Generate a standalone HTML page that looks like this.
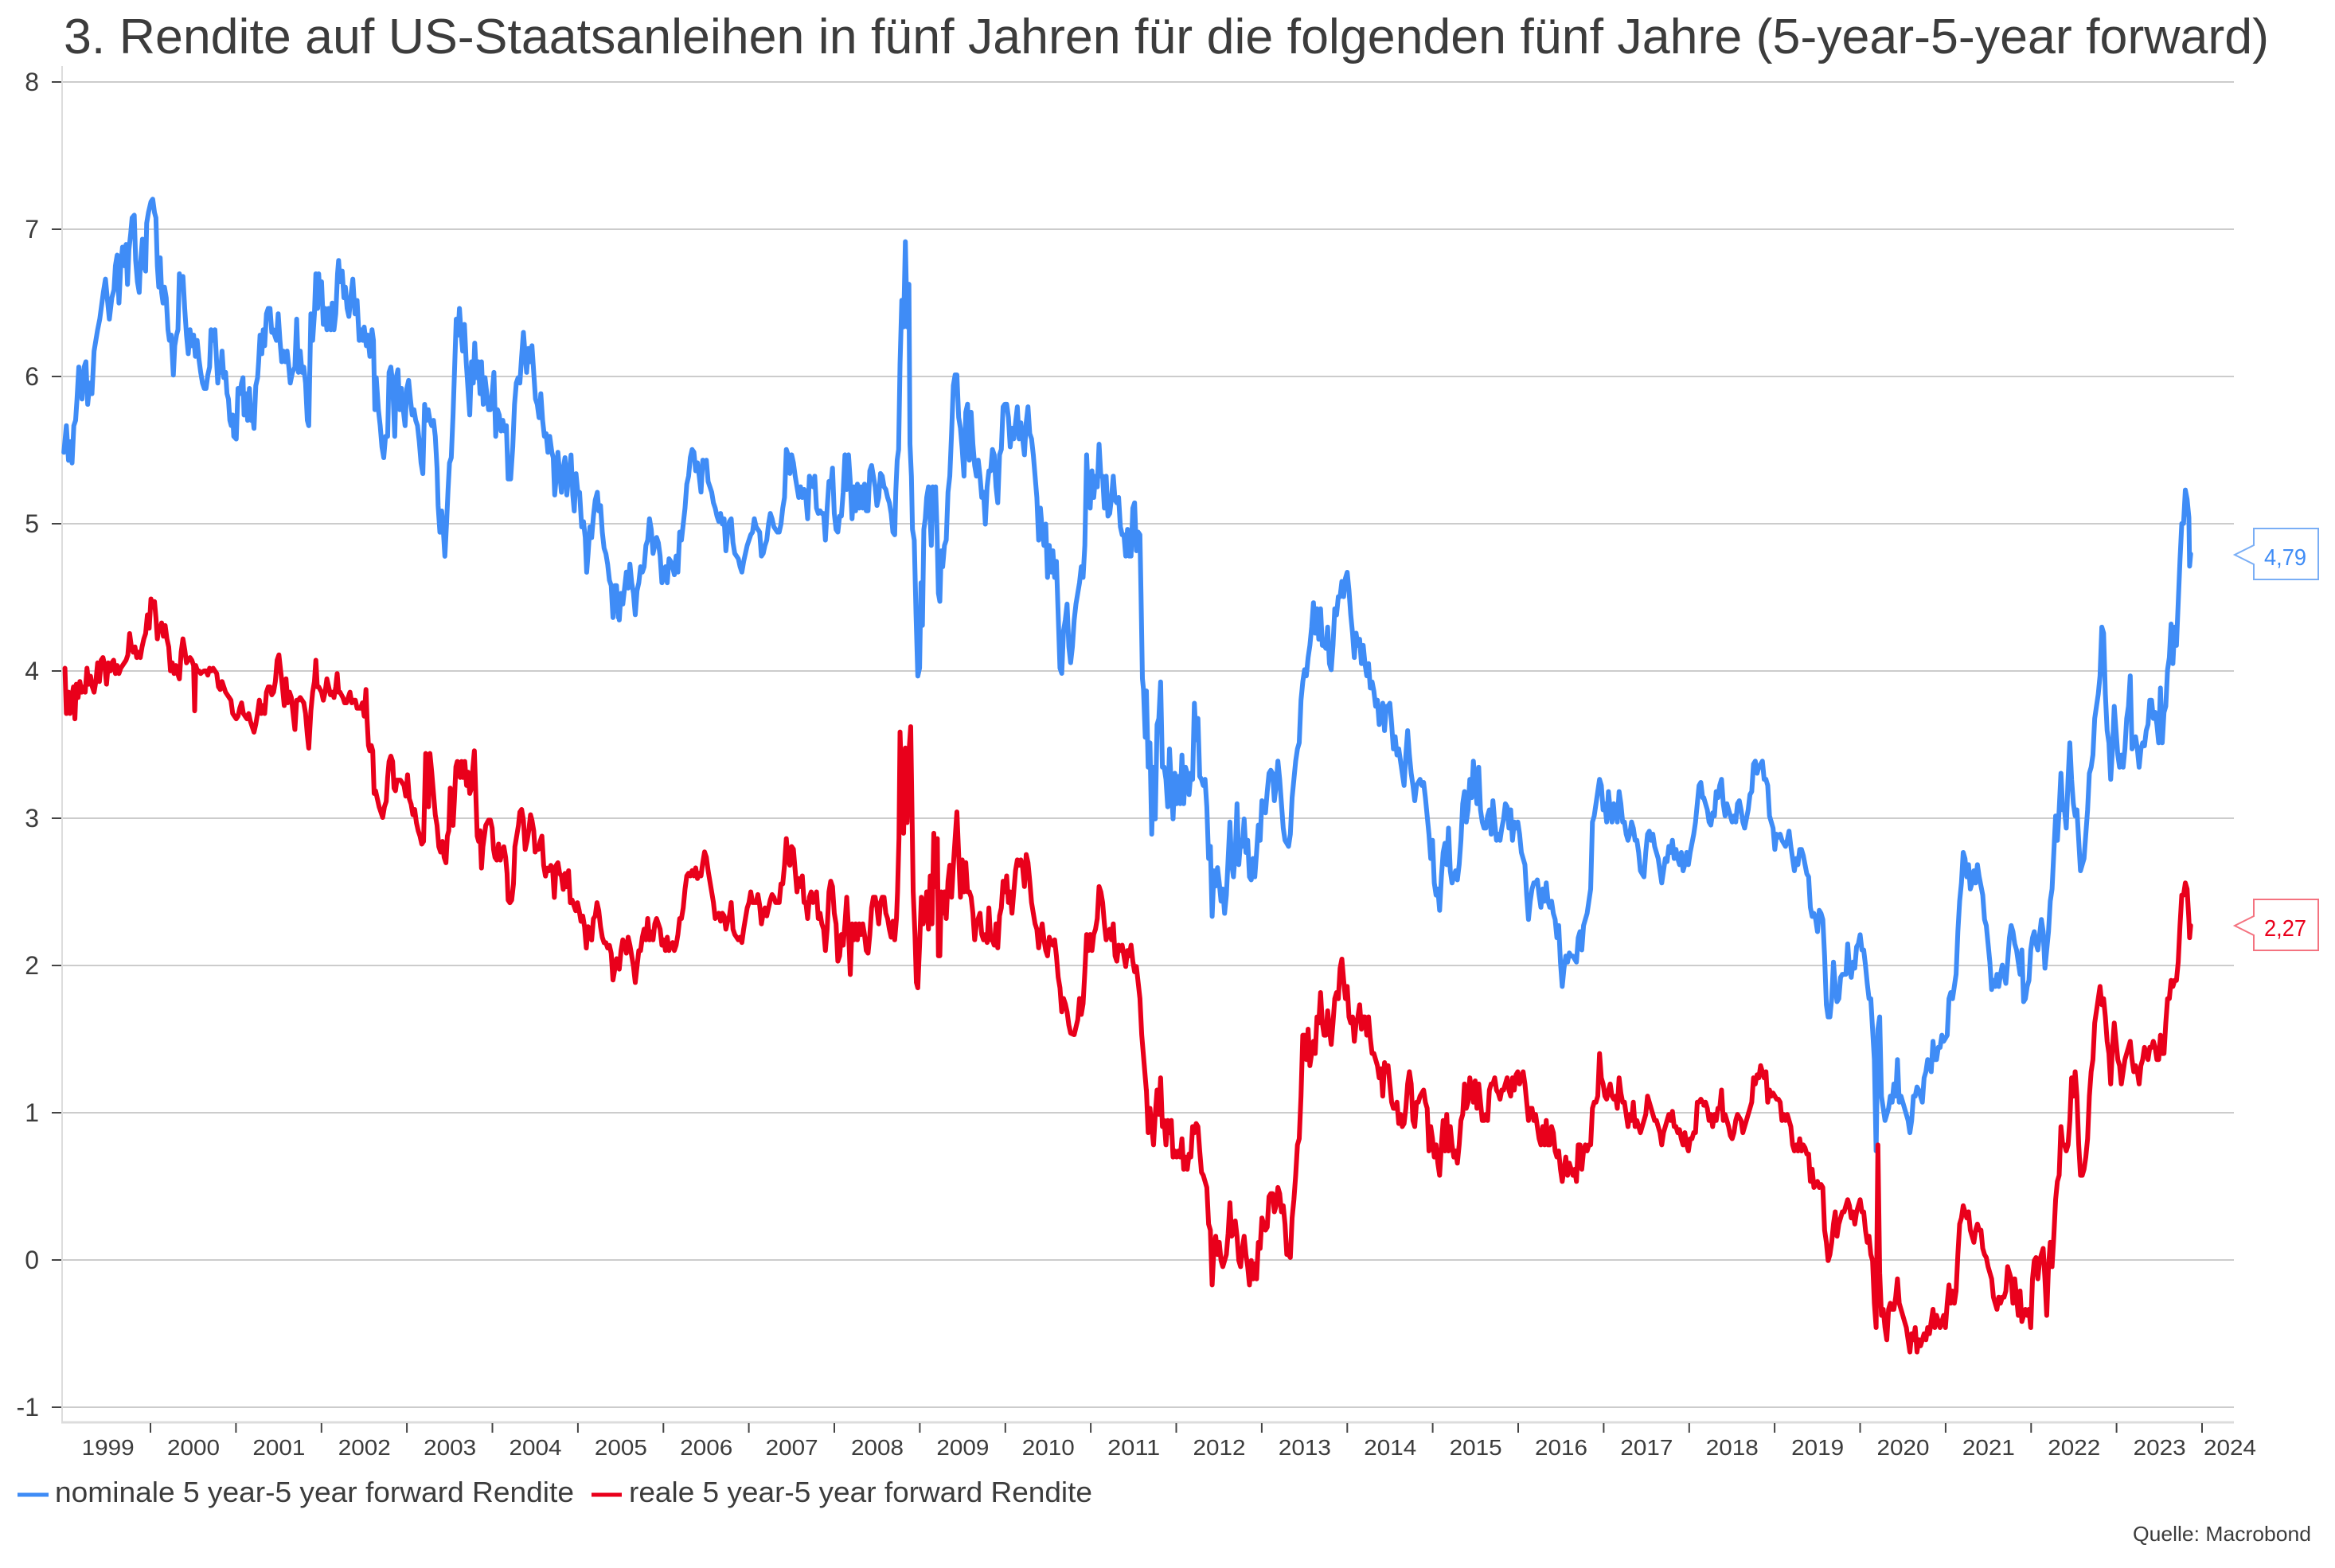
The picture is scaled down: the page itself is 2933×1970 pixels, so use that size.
<!DOCTYPE html>
<html>
<head>
<meta charset="utf-8">
<style>
html,body{margin:0;padding:0;background:#fff;}
svg{display:block;}
text{font-family:"Liberation Sans",sans-serif;fill:#3c3c3c;}
</style>
</head>
<body>
<svg width="2933" height="1970" viewBox="0 0 2933 1970" xmlns="http://www.w3.org/2000/svg">
<rect x="0" y="0" width="2933" height="1970" fill="#ffffff"/>

<!-- Title -->
<text x="80" y="67" font-size="62" textLength="2770" lengthAdjust="spacingAndGlyphs">3. Rendite auf US-Staatsanleihen in fünf Jahren für die folgenden fünf Jahre (5-year-5-year forward)</text>

<!-- Gridlines -->
<g stroke="#cccccc" stroke-width="2">
<line x1="78" y1="103" x2="2806" y2="103"/>
<line x1="78" y1="288" x2="2806" y2="288"/>
<line x1="78" y1="473" x2="2806" y2="473"/>
<line x1="78" y1="658" x2="2806" y2="658"/>
<line x1="78" y1="843" x2="2806" y2="843"/>
<line x1="78" y1="1028" x2="2806" y2="1028"/>
<line x1="78" y1="1213" x2="2806" y2="1213"/>
<line x1="78" y1="1398" x2="2806" y2="1398"/>
<line x1="78" y1="1583" x2="2806" y2="1583"/>
<line x1="78" y1="1768" x2="2806" y2="1768"/>
</g>
<!-- y tick marks -->
<g stroke="#444" stroke-width="2">
<line x1="65" y1="103" x2="78" y2="103"/>
<line x1="65" y1="288" x2="78" y2="288"/>
<line x1="65" y1="473" x2="78" y2="473"/>
<line x1="65" y1="658" x2="78" y2="658"/>
<line x1="65" y1="843" x2="78" y2="843"/>
<line x1="65" y1="1028" x2="78" y2="1028"/>
<line x1="65" y1="1213" x2="78" y2="1213"/>
<line x1="65" y1="1398" x2="78" y2="1398"/>
<line x1="65" y1="1583" x2="78" y2="1583"/>
<line x1="65" y1="1768" x2="78" y2="1768"/>
</g>
<!-- axes -->
<line x1="78" y1="83" x2="78" y2="1788" stroke="#dddddd" stroke-width="2"/>
<line x1="77" y1="1787" x2="2806" y2="1787" stroke="#dcdcdc" stroke-width="3"/>

<!-- y labels -->
<g font-size="32" text-anchor="end">
<text x="49" y="114">8</text>
<text x="49" y="299">7</text>
<text x="49" y="484">6</text>
<text x="49" y="669">5</text>
<text x="49" y="854">4</text>
<text x="49" y="1039">3</text>
<text x="49" y="1224">2</text>
<text x="49" y="1409">1</text>
<text x="49" y="1594">0</text>
<text x="49" y="1779">-1</text>
</g>

<!-- x ticks -->
<g stroke="#444" stroke-width="2">
<line x1="189" y1="1788" x2="189" y2="1800"/>
<line x1="296.4" y1="1788" x2="296.4" y2="1800"/>
<line x1="403.8" y1="1788" x2="403.8" y2="1800"/>
<line x1="511.1" y1="1788" x2="511.1" y2="1800"/>
<line x1="618.5" y1="1788" x2="618.5" y2="1800"/>
<line x1="725.9" y1="1788" x2="725.9" y2="1800"/>
<line x1="833.3" y1="1788" x2="833.3" y2="1800"/>
<line x1="940.6" y1="1788" x2="940.6" y2="1800"/>
<line x1="1048" y1="1788" x2="1048" y2="1800"/>
<line x1="1155.4" y1="1788" x2="1155.4" y2="1800"/>
<line x1="1262.8" y1="1788" x2="1262.8" y2="1800"/>
<line x1="1370.1" y1="1788" x2="1370.1" y2="1800"/>
<line x1="1477.5" y1="1788" x2="1477.5" y2="1800"/>
<line x1="1584.9" y1="1788" x2="1584.9" y2="1800"/>
<line x1="1692.3" y1="1788" x2="1692.3" y2="1800"/>
<line x1="1799.6" y1="1788" x2="1799.6" y2="1800"/>
<line x1="1907" y1="1788" x2="1907" y2="1800"/>
<line x1="2014.4" y1="1788" x2="2014.4" y2="1800"/>
<line x1="2121.8" y1="1788" x2="2121.8" y2="1800"/>
<line x1="2229.1" y1="1788" x2="2229.1" y2="1800"/>
<line x1="2336.5" y1="1788" x2="2336.5" y2="1800"/>
<line x1="2443.9" y1="1788" x2="2443.9" y2="1800"/>
<line x1="2551.3" y1="1788" x2="2551.3" y2="1800"/>
<line x1="2658.6" y1="1788" x2="2658.6" y2="1800"/>
<line x1="2766" y1="1788" x2="2766" y2="1800"/>
</g>
<!-- x labels -->
<g font-size="28" text-anchor="middle">
<text x="135.7" y="1828" textLength="66" lengthAdjust="spacingAndGlyphs">1999</text>
<text x="243" y="1828" textLength="66" lengthAdjust="spacingAndGlyphs">2000</text>
<text x="350.4" y="1828" textLength="66" lengthAdjust="spacingAndGlyphs">2001</text>
<text x="457.8" y="1828" textLength="66" lengthAdjust="spacingAndGlyphs">2002</text>
<text x="565.2" y="1828" textLength="66" lengthAdjust="spacingAndGlyphs">2003</text>
<text x="672.5" y="1828" textLength="66" lengthAdjust="spacingAndGlyphs">2004</text>
<text x="779.9" y="1828" textLength="66" lengthAdjust="spacingAndGlyphs">2005</text>
<text x="887.3" y="1828" textLength="66" lengthAdjust="spacingAndGlyphs">2006</text>
<text x="994.7" y="1828" textLength="66" lengthAdjust="spacingAndGlyphs">2007</text>
<text x="1102" y="1828" textLength="66" lengthAdjust="spacingAndGlyphs">2008</text>
<text x="1209.4" y="1828" textLength="66" lengthAdjust="spacingAndGlyphs">2009</text>
<text x="1316.8" y="1828" textLength="66" lengthAdjust="spacingAndGlyphs">2010</text>
<text x="1424.2" y="1828" textLength="66" lengthAdjust="spacingAndGlyphs">2011</text>
<text x="1531.5" y="1828" textLength="66" lengthAdjust="spacingAndGlyphs">2012</text>
<text x="1638.9" y="1828" textLength="66" lengthAdjust="spacingAndGlyphs">2013</text>
<text x="1746.3" y="1828" textLength="66" lengthAdjust="spacingAndGlyphs">2014</text>
<text x="1853.7" y="1828" textLength="66" lengthAdjust="spacingAndGlyphs">2015</text>
<text x="1961" y="1828" textLength="66" lengthAdjust="spacingAndGlyphs">2016</text>
<text x="2068.4" y="1828" textLength="66" lengthAdjust="spacingAndGlyphs">2017</text>
<text x="2175.8" y="1828" textLength="66" lengthAdjust="spacingAndGlyphs">2018</text>
<text x="2283.2" y="1828" textLength="66" lengthAdjust="spacingAndGlyphs">2019</text>
<text x="2390.5" y="1828" textLength="66" lengthAdjust="spacingAndGlyphs">2020</text>
<text x="2497.9" y="1828" textLength="66" lengthAdjust="spacingAndGlyphs">2021</text>
<text x="2605.3" y="1828" textLength="66" lengthAdjust="spacingAndGlyphs">2022</text>
<text x="2712.7" y="1828" textLength="66" lengthAdjust="spacingAndGlyphs">2023</text>
<text x="2801" y="1828" textLength="66" lengthAdjust="spacingAndGlyphs">2024</text>
</g>

<!-- Series -->
<g fill="none" stroke-width="6" stroke-linejoin="round" stroke-linecap="round">
<!-- segment 1 -->
<g transform="translate(78,200) scale(0.446429,0.669643)">
<polyline vector-effect="non-scaling-stroke" stroke="#3f8cf6" points="5,550 12,500 18,565 24,530 28,570 33,500 38,490 42,450 47,390 52,420 56,450 62,390 67,380 72,460 78,420 84,440 90,360 95,340 100,320 106,300 110,280 116,250 122,225 127,260 133,300 140,260 146,245 150,200 155,180 160,270 165,200 170,165 175,200 180,160 184,235 188,170 193,140 197,110 203,105 207,190 212,230 217,250 220,200 226,150 230,200 235,210 238,120 243,100 250,80 255,75 260,100 264,110 268,200 272,240 276,185 280,250 284,270 288,240 293,260 298,320 302,340 307,330 313,405 317,350 322,330 326,320 330,215 336,240 340,220 345,280 350,330 355,365 360,320 365,350 370,330 375,370 380,340 385,375 390,400 395,420 400,430 405,430 410,405 415,390 419,320 424,340 430,320 434,370 438,420 442,390 446,400 450,360 455,410 460,400 464,440 468,450 472,490 476,500 480,480 483,520 490,525 495,430 500,440 505,420 509,410 512,480 518,440 522,490 527,430 532,490 536,480 540,505 545,425 550,410 553,380 557,330 562,365 566,320 570,350 575,290 580,280 585,280 590,325 594,320 598,330 603,340 608,290 613,340 618,380 622,360 628,380 633,360 638,390 642,420 648,400 655,390 660,300 665,400 670,360 675,400 680,390 685,420 690,490 694,500 700,290 705,340 710,290 714,215 719,280 722,215 726,270 730,230 735,310 740,280 745,320 750,280 756,320 760,270 765,320 770,290 775,215 778,190 782,230 788,210 793,260 797,240 802,280 807,295 812,260 818,225 824,290 830,265 836,340 840,320 846,340 850,315 856,350 860,330 866,370 872,320 876,340 880,470 884,410 890,470 895,500 900,540 905,560 910,520 916,520 920,400 925,390 930,420 936,520 940,410 945,395 950,470 955,430 960,470 965,500 970,430 975,415 980,450 985,480 990,470 995,490 1000,500 1005,530 1010,570 1015,590 1020,460 1025,490 1030,470 1035,490 1040,500 1045,490 1050,520 1055,580 1058,650 1063,700 1068,660 1073,700 1077,745 1082,680 1086,620 1090,570 1095,560 1100,480 1104,400 1109,300 1114,330 1118,280 1122,320 1127,360 1132,310 1137,380 1142,430 1147,480 1152,380 1157,420 1161,345 1166,410 1171,380 1176,440 1180,380 1185,460 1190,410 1195,440 1200,470 1205,470 1210,440 1215,400 1220,520 1225,470 1230,480 1235,510 1240,490 1245,510 1250,500 1255,600 1262,600 1268,540 1273,460 1278,420 1283,410 1288,420 1293,370 1298,325 1302,360 1307,400 1312,355 1317,380 1322,350 1327,400 1332,450 1337,460 1342,485 1347,440 1352,490 1357,520 1362,515 1367,550 1372,520 1378,550 1382,560 1386,630 1390,600 1395,550 1400,590 1405,625 1410,580 1415,560 1420,630 1426,590 1432,555 1437,630 1441,660 1446,590 1451,625 1456,625 1462,690 1467,680 1472,710 1476,775 1480,740 1485,690 1490,710 1495,670 1500,640 1506,625 1510,660 1515,650 1520,700 1525,730 1530,740 1535,760 1540,790 1545,800 1550,860 1555,800 1560,800 1565,860"/>
<polyline vector-effect="non-scaling-stroke" stroke="#e9001b" points="8,955 12,1040 18,1000 22,1040 27,1010 32,990 36,1050 40,985 45,1010 50,980 55,1000 60,990 65,1000 70,955 75,985 80,970 85,990 90,1000 95,980 100,945 105,980 110,940 115,935 120,950 125,985 130,945 136,960 140,945 145,940 150,965 155,950 160,965 165,955 170,950 175,945 180,940 185,930 190,890 195,915 200,925 205,915 210,935 215,925 220,935 225,915 230,900 235,890 240,855 245,880 250,825 255,840 260,830 264,860 268,900 272,880 276,880 280,870 285,895 290,875 295,900 300,915 305,960 310,945 315,965 320,950 325,965 330,975 335,925 340,900 345,920 350,945 355,940 360,935 365,940 370,950 373,1035 376,950 380,958 385,960 390,965 395,962 400,960 405,960 410,968 415,955 420,960 425,955 430,960 435,965 440,990 445,995 450,980 455,990 460,1000 465,1005 470,1010 475,1015 480,1040 485,1045 490,1050 495,1045 500,1030 505,1020 510,1040 515,1045 520,1050 525,1040 530,1055 535,1065 540,1075 545,1060 550,1040 555,1015 560,1040 565,1025 570,1040 575,1000 580,990 585,990 590,1005 595,1000 600,980 605,940 610,930 615,960 620,990 625,1025 630,975 635,1020 640,1000 645,1010 650,1040 655,1070 660,1015 665,1015 670,1010 675,1015 680,1020 685,1040 690,1080 694,1105 700,1035 705,1000 710,980 714,940 718,990 722,990 726,995 730,1000 735,1015 740,1000 745,975 750,990 755,1005 760,1000 765,1010 770,990 774,965 778,1000 782,1000 786,1005 790,1010 795,1020 800,1020 805,1010 810,1000 815,1020 820,1015 825,1015 830,1030 835,1030 840,1030 845,1020 850,1045 855,995 858,1050 862,1100 866,1110 870,1100 874,1110 878,1190 882,1185 887,1200 892,1215 897,1225 902,1235 907,1215 912,1205 916,1160 920,1130 925,1120 930,1130 934,1180 938,1185 942,1165 947,1165 952,1165 957,1170 962,1175 967,1195 972,1155 977,1200 982,1210 987,1230 992,1220 997,1245 1002,1260 1007,1270 1012,1285 1017,1280 1020,1200 1023,1115 1027,1180 1031,1215 1035,1115 1040,1150 1045,1190 1050,1230 1055,1250 1060,1290 1065,1300 1070,1280 1075,1310 1080,1320 1084,1270 1088,1260 1092,1180 1096,1200 1100,1250 1104,1200 1108,1140 1112,1130 1116,1150 1120,1160 1124,1130 1128,1160 1133,1130 1138,1175 1142,1150 1147,1190 1152,1180 1156,1140 1160,1110 1164,1190 1168,1270 1172,1280 1176,1260 1180,1330 1184,1290 1188,1270 1192,1250 1196,1245 1200,1240 1205,1240 1210,1255 1214,1295 1218,1310 1223,1315 1228,1285 1233,1315 1238,1300 1243,1290 1248,1310 1252,1340 1255,1390 1260,1395 1265,1390 1270,1360 1274,1290 1279,1270 1284,1250 1288,1225 1293,1220 1298,1240 1303,1295 1308,1280 1313,1260 1318,1230 1322,1240 1327,1260 1331,1300 1335,1290 1340,1295 1345,1280 1350,1270 1355,1325 1360,1345 1365,1330 1370,1335 1375,1325 1380,1330 1385,1385 1390,1325 1395,1320 1400,1340 1405,1345 1410,1370 1415,1340 1420,1365 1425,1335 1430,1395 1435,1390 1440,1400 1445,1410 1450,1395 1455,1410 1460,1430 1465,1420 1470,1440 1475,1480 1480,1440 1485,1445 1490,1465 1495,1425 1500,1420 1505,1395 1510,1410 1515,1440 1520,1460 1525,1470 1530,1470 1535,1480 1540,1475 1545,1490 1550,1540 1555,1520 1560,1500 1565,1510"/>
</g>
<!-- segment 2 -->
<g transform="translate(760,250) scale(0.446429,0.669643)">
<polyline vector-effect="non-scaling-stroke" stroke="#3f8cf6" points="40,790 45,740 50,760 55,730 60,700 65,730 70,685 75,720 80,740 85,780 90,735 95,720 100,690 105,700 110,690 115,650 120,640 125,600 130,620 135,665 140,650 145,635 150,645 155,670 160,720 165,710 170,690 175,720 180,675 185,680 190,690 195,705 200,670 205,700 210,625 215,640 220,610 225,580 230,535 235,520 240,485 245,470 250,475 255,510 260,495 265,520 270,550 275,490 280,500 285,490 290,530 295,540 300,550 305,570 310,580 315,595 320,605 325,590 330,610 335,600 340,660 345,625 350,605 355,600 360,645 365,665 370,670 375,675 380,690 385,700 390,680 395,665 400,650 405,640 410,630 415,625 420,600 425,615 430,620 435,625 440,670 445,665 450,650 455,640 460,610 465,590 470,600 475,615 480,620 485,625 490,625 495,610 500,580 505,560 510,470 515,480 520,515 525,480 530,495 535,520 540,540 545,560 550,540 555,560 560,545 565,560 570,600 575,520 580,530 585,540 590,520 595,580 600,590 605,585 610,590 615,590 620,640 625,580 630,530 635,540 640,505 645,590 650,620 655,625 660,595 665,595 670,550 675,480 680,545 685,480 690,530 695,600 700,540 705,585 710,535 715,580 720,540 725,580 730,535 735,585 740,585 745,510 750,500 755,520 760,540 765,575 770,560 775,515 780,520 785,540 790,545 795,560 800,570 805,590 810,625 815,630 818,550 822,490 826,470 830,310 835,190 840,240 845,80 850,240 855,160 858,460 862,520 865,620 870,640 875,780 880,895 885,880 889,720 893,800 897,620 901,600 905,560 910,540 914,590 918,650 922,540 926,600 930,540 934,620 938,740 942,755 946,660 950,690 955,650 960,640 965,550 970,520 975,440 980,350 985,330 990,330 995,410 1000,430 1005,470 1010,520 1015,400 1020,385 1025,490 1030,400 1035,460 1040,500 1045,520 1050,490 1055,520 1060,560 1065,550 1070,610 1075,540 1080,510 1085,510 1090,470 1095,480 1100,540 1105,570 1110,480 1115,470 1120,390 1125,385 1130,385 1135,410 1140,465 1145,430 1150,450 1155,420 1160,390 1165,450 1170,420 1175,450 1180,480 1185,420 1190,390 1195,440 1200,450 1205,480 1210,520 1215,560 1220,640 1225,580 1230,620 1235,650 1240,610 1245,710 1250,650 1255,700 1260,660 1265,710 1270,680 1275,780 1280,880 1285,890 1290,810 1295,790 1300,760 1305,840 1310,870 1315,840 1320,790 1325,760 1330,740 1335,720 1340,690 1345,710 1350,650 1355,480 1360,560 1365,580 1370,510 1375,560 1380,520 1385,540 1390,460 1395,520 1400,520 1405,580 1410,520 1415,595 1420,590 1425,560 1430,520 1435,565 1440,570 1445,560 1450,615 1455,630 1460,630 1465,670 1470,620 1475,670 1480,670 1485,580 1490,570 1495,660 1500,625 1505,630 1508,740 1512,900 1515,920 1520,1010 1523,923"/>
<polyline vector-effect="non-scaling-stroke" stroke="#e9001b" points="40,1445 45,1410 50,1390 55,1400 60,1415 65,1385 70,1400 75,1420 80,1440 85,1470 90,1440 95,1410 100,1410 105,1385 110,1370 115,1390 120,1350 125,1390 130,1375 135,1390 140,1360 145,1350 150,1360 155,1370 160,1400 165,1390 170,1410 175,1385 180,1410 185,1400 190,1395 195,1410 200,1400 205,1380 210,1350 215,1350 220,1330 225,1295 230,1270 235,1265 240,1270 245,1260 250,1270 255,1255 260,1275 265,1265 270,1270 275,1245 280,1225 285,1235 290,1260 295,1280 300,1300 305,1320 310,1350 315,1345 320,1340 325,1355 330,1340 335,1345 340,1370 345,1355 350,1345 355,1320 360,1370 365,1380 370,1385 375,1390 380,1385 385,1395 390,1370 395,1350 400,1330 405,1320 410,1300 415,1320 420,1320 425,1320 430,1305 435,1325 440,1360 445,1340 450,1330 455,1345 460,1330 465,1315 470,1305 475,1310 480,1320 485,1320 490,1320 495,1285 500,1285 505,1250 510,1200 515,1240 520,1250 525,1215 530,1220 535,1260 540,1300 545,1275 550,1290 555,1270 560,1320 565,1320 570,1350 575,1310 580,1300 585,1320 590,1310 595,1300 600,1350 605,1340 610,1360 615,1370 620,1410 625,1370 630,1300 635,1280 640,1290 645,1340 650,1360 655,1430 660,1420 665,1380 670,1400 675,1360 680,1310 685,1370 690,1455 695,1360 700,1390 705,1360 710,1390 715,1360 720,1380 725,1360 730,1380 735,1410 740,1415 745,1380 750,1330 755,1310 760,1310 765,1330 770,1360 775,1320 780,1310 785,1310 790,1340 795,1350 800,1370 805,1385 810,1355 815,1390 820,1350 823,1300 827,1200 830,1000 835,1100 840,1190 845,1030 850,1170 855,1040 860,990 863,1120 867,1300 872,1380 876,1470 880,1480 885,1400 890,1310 895,1360 900,1340 905,1300 910,1370 915,1270 920,1360 925,1190 930,1290 935,1200 938,1420 942,1420 946,1300 950,1340 955,1300 960,1350 965,1280 970,1250 975,1310 980,1250 985,1200 990,1150 995,1230 1000,1310 1005,1240 1010,1300 1015,1245 1020,1300 1025,1300 1030,1310 1035,1340 1040,1390 1045,1360 1050,1350 1055,1340 1060,1380 1065,1390 1070,1380 1075,1395 1080,1330 1085,1390 1090,1390 1095,1400 1100,1360 1105,1405 1110,1345 1115,1330 1120,1280 1125,1300 1130,1270 1135,1320 1140,1300 1145,1340 1150,1300 1155,1260 1160,1240 1165,1250 1170,1240 1175,1255 1180,1290 1185,1230 1190,1245 1195,1280 1200,1320 1205,1340 1210,1360 1215,1370 1220,1405 1225,1380 1230,1360 1235,1390 1240,1410 1245,1420 1250,1385 1255,1395 1260,1400 1265,1390 1270,1420 1275,1460 1280,1480 1285,1525 1290,1500 1295,1510 1300,1525 1305,1550 1310,1565 1320,1568 1330,1540 1335,1500 1340,1530 1345,1510 1350,1450 1355,1380 1360,1410 1365,1380 1370,1410 1375,1380 1380,1370 1385,1350 1390,1290 1395,1300 1400,1320 1405,1360 1410,1390 1415,1380 1420,1370 1425,1390 1430,1360 1435,1420 1440,1430 1445,1400 1450,1410 1455,1400 1460,1420 1465,1440 1470,1410 1475,1420 1480,1400 1485,1430 1490,1450 1495,1440 1500,1470 1505,1500 1510,1568 1523,1672"/>
</g>
<!-- segment 3 -->
<g transform="translate(1440,520) scale(0.446429,0.765306)">
<polyline vector-effect="non-scaling-stroke" stroke="#3f8cf6" points="0,455 5,580 10,540 15,690 20,580 25,665 30,510 35,500 40,440 45,580 50,580 55,600 60,645 65,550 70,610 75,665 80,590 85,640 90,595 95,640 100,560 105,640 110,580 115,590 120,625 125,590 130,600 135,475 140,535 145,500 150,595 155,600 160,610 165,600 170,645 175,730 180,710 185,825 190,750 195,775 200,745 205,770 210,800 215,780 220,820 225,790 230,730 235,670 240,740 245,760 250,720 255,640 260,740 265,700 270,710 275,665 280,720 285,700 290,760 295,765 300,730 305,760 310,720 315,675 320,700 325,635 330,650 335,655 340,620 345,590 350,585 355,590 360,635 365,610 370,570 375,600 380,640 385,680 390,700 395,705 400,710 405,690 410,630 415,600 420,570 425,550 430,540 435,470 440,440 445,420 450,430 455,400 460,380 465,350 470,310 475,360 480,320 485,370 490,320 495,380 500,380 505,385 510,350 515,410 520,420 525,380 530,320 535,330 540,300 545,300 550,275 555,300 560,270 565,260 570,290 575,330 580,360 585,400 590,360 595,380 600,370 605,410 610,380 615,410 620,430 625,410 630,450 635,440 640,455 645,480 650,470 655,510 660,500 665,475 670,520 675,480 680,480 685,475 690,510 695,550 700,530 705,560 710,550 715,570 720,590 725,610 730,560 735,520 740,560 745,590 750,610 755,635 760,610 765,605 770,600 775,610 780,605 785,630 790,660 795,690 800,730 805,700 810,770 815,790 820,780 825,815 830,760 835,720 840,705 845,740 850,680 855,750 860,770 865,760 870,750 875,765 880,740 885,700 890,640 895,620 900,670 905,650 910,600 915,630 920,570 925,610 930,640 935,580 940,650 945,670 950,680 955,680 960,660 965,650 970,690 975,635 980,670 985,700 990,690 995,700 1000,680 1005,665 1010,640 1015,645 1020,680 1025,650 1030,700 1035,670 1040,680 1045,670 1050,690 1055,720 1060,730 1065,740 1070,790 1075,830 1080,800 1085,780 1090,770 1095,770 1100,765 1105,790 1110,810 1115,780 1120,800 1125,770 1130,800 1135,810 1140,800 1145,820 1150,830 1155,860 1160,840 1165,900 1170,940 1175,910 1180,890 1185,900 1190,885 1195,890 1200,890 1205,895 1210,900 1215,860 1220,850 1225,880 1230,840 1235,830 1240,820 1245,800 1250,780 1255,670 1260,660 1265,640 1270,620 1275,600 1280,610 1285,650 1290,640 1295,670 1300,620 1305,650 1310,670 1315,640 1320,650 1325,670 1330,620 1335,640 1340,670 1345,670 1350,690 1355,700 1360,690 1365,670 1370,680 1375,700 1380,700 1385,720 1390,750 1395,755 1400,760 1405,720 1410,690 1415,685 1420,700 1425,690 1430,710 1435,720 1440,730 1445,750 1450,770 1455,750 1460,730 1465,735 1470,710 1475,720 1480,700 1485,730 1490,715 1495,730 1500,740 1505,720 1510,750 1515,740 1520,720 1525,740 1530,720 1535,705 1540,690 1545,670 1550,640 1555,610 1560,605 1565,630"/>
<polyline vector-effect="non-scaling-stroke" stroke="#e9001b" points="0,1110 5,1180 10,1140 15,1170 20,1200 25,1150 30,1110 35,1150 40,1090 45,1170 50,1160 55,1200 60,1160 65,1180 70,1160 75,1220 80,1210 85,1220 90,1210 95,1220 100,1190 105,1240 110,1220 115,1240 120,1215 125,1220 130,1170 135,1180 140,1165 145,1170 150,1210 155,1245 160,1250 165,1260 170,1270 175,1330 180,1340 185,1430 190,1370 195,1350 200,1380 205,1360 210,1390 215,1400 220,1390 225,1380 230,1345 235,1295 240,1350 245,1345 250,1325 255,1350 260,1390 265,1400 270,1370 275,1350 280,1380 285,1400 290,1430 295,1390 300,1420 305,1395 310,1420 315,1360 320,1370 325,1320 330,1330 335,1340 340,1335 345,1285 350,1280 355,1280 360,1310 365,1300 370,1270 375,1280 380,1310 385,1300 390,1330 395,1380 400,1380 405,1385 410,1320 415,1290 420,1250 425,1200 430,1190 435,1120 440,1020 445,1020 450,1060 455,1010 460,1070 465,1050 470,1030 475,1050 480,990 485,1000 490,950 495,1000 500,1020 505,1020 510,980 515,1010 520,1035 525,1000 530,960 535,950 540,960 545,910 550,895 555,930 560,960 565,940 570,990 575,1000 580,990 585,1030 590,1000 595,990 600,970 605,1010 610,990 615,990 620,1020 625,990 630,1025 635,1050 640,1050 645,1060 650,1070 655,1090 660,1075 665,1120 670,1065 675,1080 680,1070 685,1100 690,1130 695,1140 700,1140 705,1130 710,1165 715,1150 720,1170 725,1165 730,1140 735,1100 740,1080 745,1100 750,1160 755,1170 760,1130 765,1130 770,1120 775,1115 780,1110 785,1130 790,1140 795,1210 800,1170 805,1190 810,1220 815,1200 820,1230 825,1250 830,1200 835,1160 840,1210 845,1150 850,1210 855,1170 860,1200 865,1220 870,1210 875,1230 880,1200 885,1160 890,1150 895,1100 900,1140 905,1130 910,1090 915,1110 920,1130 925,1095 930,1140 935,1100 940,1130 945,1160 950,1160 955,1150 960,1160 965,1110 970,1100 975,1100 980,1090 985,1110 990,1115 995,1125 1000,1110 1005,1110 1010,1100 1015,1090 1020,1110 1025,1120 1030,1090 1035,1110 1040,1085 1045,1080 1050,1100 1055,1090 1060,1080 1065,1100 1070,1130 1075,1160 1080,1140 1085,1140 1090,1160 1095,1150 1100,1170 1105,1190 1110,1200 1115,1170 1120,1200 1125,1160 1130,1200 1135,1200 1140,1170 1145,1180 1150,1210 1155,1220 1160,1210 1165,1240 1170,1260 1175,1240 1180,1220 1185,1250 1190,1230 1195,1240 1200,1250 1205,1240 1210,1260 1215,1200 1220,1200 1225,1240 1230,1210 1235,1200 1240,1210 1245,1200 1250,1200 1255,1140 1260,1130 1265,1130 1270,1120 1275,1050 1280,1090 1285,1100 1290,1120 1295,1125 1300,1110 1305,1100 1310,1120 1315,1125 1320,1120 1325,1140 1330,1090 1335,1115 1340,1130 1345,1130 1350,1150 1355,1170 1360,1150 1365,1160 1370,1130 1375,1170 1380,1160 1385,1170 1390,1180 1395,1170 1400,1160 1405,1150 1410,1120 1415,1130 1420,1140 1425,1150 1430,1160 1435,1160 1440,1170 1445,1180 1450,1200 1455,1180 1460,1170 1465,1160 1470,1150 1475,1160 1480,1145 1485,1170 1490,1170 1495,1180 1500,1175 1505,1190 1510,1200 1515,1180 1520,1200 1525,1210 1530,1190 1535,1190 1540,1180 1545,1180 1550,1130 1555,1130 1560,1125 1565,1130"/>
</g>
<!-- segment 4 -->
<g transform="translate(2120,520) scale(0.446429,0.765306)">
<polyline vector-effect="non-scaling-stroke" stroke="#3f8cf6" points="45,630 50,640 55,650 60,670 65,675 70,655 75,660 80,620 85,630 90,610 95,600 100,640 105,660 110,640 115,650 120,660 125,670 130,660 135,670 140,640 145,635 150,650 155,670 160,680 165,665 170,650 175,625 180,620 185,575 190,570 195,590 200,580 205,575 210,570 215,600 220,600 225,610 230,660 235,670 240,680 245,715 250,690 255,695 260,690 265,700 270,705 275,710 280,700 285,685 290,710 295,730 300,750 305,730 310,740 315,715 320,715 325,725 330,740 335,755 340,760 345,810 350,825 355,820 360,830 365,850 370,815 375,820 380,830 385,890 390,970 395,990 400,990 405,960 410,900 415,940 420,965 425,960 430,925 435,920 440,920 445,920 450,870 455,910 460,925 465,900 470,910 475,875 480,870 485,855 490,880 495,880 500,905 505,935 510,960 515,960 520,1010 525,1060 530,1210 535,1010 540,990 545,1120 550,1140 555,1160 560,1150 565,1140 570,1120 575,1130 580,1100 585,1120 590,1060 595,1130 600,1120 605,1130 610,1140 615,1150 620,1160 625,1180 630,1160 635,1120 640,1120 645,1105 650,1110 655,1120 660,1130 665,1090 670,1080 675,1060 680,1070 685,1080 690,1030 695,1060 700,1060 705,1040 710,1040 715,1020 720,1030 725,1025 730,1020 735,960 740,950 745,960 750,940 755,920 760,850 765,800 770,770 775,720 780,730 785,760 790,740 795,780 800,770 805,750 810,770 815,740 820,760 825,775 830,790 835,830 840,840 845,870 850,900 855,945 860,930 865,940 870,920 875,940 880,920 885,905 890,920 895,935 900,900 905,860 910,840 915,850 920,870 925,880 930,900 935,920 940,880 945,965 950,960 955,940 960,930 965,880 970,860 975,850 980,870 985,880 990,855 995,830 1000,850 1005,910 1010,880 1015,850 1020,800 1025,780 1030,720 1035,660 1040,700 1045,650 1050,590 1055,650 1060,650 1065,680 1070,600 1075,540 1080,600 1085,640 1090,660 1095,650 1100,700 1105,750 1110,740 1115,730 1120,690 1125,650 1130,590 1135,580 1140,560 1145,500 1150,480 1155,460 1160,430 1165,350 1170,360 1175,460 1180,520 1185,540 1190,600 1195,550 1200,480 1205,520 1210,560 1215,580 1220,560 1225,580 1230,550 1235,500 1240,480 1245,430 1250,550 1255,540 1260,530 1265,550 1270,580 1275,550 1280,540 1285,545 1290,520 1295,510 1300,470 1305,470 1310,500 1315,490 1320,510 1325,540 1330,450 1335,540 1340,490 1345,480 1350,420 1355,400 1360,345 1365,410 1370,350 1375,380 1380,310 1385,240 1390,180 1395,180 1400,125 1405,140 1410,170 1412,250 1415,230"/>
<polyline vector-effect="non-scaling-stroke" stroke="#e9001b" points="45,1135 50,1130 55,1140 60,1160 65,1150 70,1170 75,1150 80,1160 85,1140 90,1140 95,1110 100,1160 105,1150 110,1160 115,1170 120,1185 125,1190 130,1180 135,1160 140,1150 145,1155 150,1160 155,1180 160,1170 165,1160 170,1150 175,1140 180,1130 185,1090 190,1100 195,1085 200,1090 205,1070 210,1080 215,1090 220,1080 225,1130 230,1110 235,1120 240,1115 245,1120 250,1125 255,1125 260,1130 265,1160 270,1150 275,1160 280,1150 285,1160 290,1170 295,1200 300,1210 305,1200 310,1210 315,1190 320,1210 325,1200 330,1205 335,1215 340,1215 345,1260 350,1240 355,1270 360,1265 365,1260 370,1270 375,1265 380,1270 385,1340 390,1360 395,1390 400,1380 405,1360 410,1330 415,1310 420,1350 425,1330 430,1320 435,1310 440,1310 445,1300 450,1290 455,1300 460,1320 465,1310 470,1330 475,1310 480,1300 485,1290 490,1310 495,1310 500,1340 505,1360 510,1350 515,1380 520,1390 525,1460 530,1500 535,1200 540,1410 545,1480 550,1470 555,1500 560,1520 565,1470 570,1460 575,1470 580,1470 585,1450 590,1420 595,1460 600,1470 605,1480 610,1490 615,1500 620,1520 625,1540 630,1510 635,1520 640,1500 645,1540 650,1520 655,1530 660,1520 665,1510 670,1520 675,1500 680,1510 685,1490 690,1470 695,1500 700,1480 705,1490 710,1500 715,1490 720,1480 725,1500 730,1460 735,1430 740,1460 745,1440 750,1460 755,1440 760,1380 765,1330 770,1320 775,1300 780,1310 785,1320 790,1310 795,1340 800,1350 805,1360 810,1340 815,1330 820,1340 825,1340 830,1370 835,1380 840,1385 845,1400 850,1410 855,1420 860,1450 865,1460 870,1470 875,1450 880,1460 885,1450 890,1450 895,1440 900,1400 905,1410 910,1420 915,1460 920,1420 925,1450 930,1480 935,1440 940,1490 945,1480 950,1470 955,1480 960,1470 965,1500 970,1420 975,1390 980,1385 985,1420 990,1390 995,1380 1000,1370 1005,1420 1010,1480 1015,1400 1020,1360 1025,1400 1030,1350 1035,1290 1040,1260 1045,1250 1050,1170 1055,1200 1060,1200 1065,1210 1070,1200 1075,1160 1080,1090 1085,1120 1090,1080 1095,1120 1100,1200 1105,1250 1110,1250 1115,1240 1120,1220 1125,1190 1130,1120 1135,1080 1140,1060 1145,1000 1150,980 1155,960 1160,940 1165,970 1170,960 1175,990 1180,1030 1185,1050 1190,1100 1195,1040 1200,1000 1205,1030 1210,1060 1215,1070 1220,1100 1225,1080 1230,1060 1235,1050 1240,1040 1245,1030 1250,1060 1255,1080 1260,1070 1265,1080 1270,1100 1275,1070 1280,1060 1285,1040 1290,1050 1295,1060 1300,1040 1305,1040 1310,1030 1315,1040 1320,1060 1325,1060 1330,1020 1335,1050 1340,1050 1345,1000 1350,960 1355,960 1360,930 1365,940 1370,930 1375,930 1380,900 1385,840 1390,790 1395,790 1400,770 1405,780 1410,830 1412,860 1415,840"/>
</g>
</g>

<!-- Value labels -->
<path d="M2807,697 L2831,685 L2831,664 L2912,664 L2912,728 L2831,728 L2831,709 Z" fill="#ffffff" stroke="#7aaef5" stroke-width="2"/>
<text x="2844" y="710" font-size="29" textLength="53" lengthAdjust="spacingAndGlyphs" style="fill:#3f8cf6">4,79</text>
<path d="M2807,1163 L2831,1151 L2831,1130 L2912,1130 L2912,1194 L2831,1194 L2831,1175 Z" fill="#ffffff" stroke="#f47380" stroke-width="2"/>
<text x="2844" y="1176" font-size="29" textLength="53" lengthAdjust="spacingAndGlyphs" style="fill:#e9001b">2,27</text>

<!-- Legend -->
<line x1="22" y1="1878" x2="61" y2="1878" stroke="#3f8cf6" stroke-width="5"/>
<text x="69" y="1887" font-size="36" textLength="652" lengthAdjust="spacingAndGlyphs">nominale 5 year-5 year forward Rendite</text>
<line x1="743" y1="1878" x2="781" y2="1878" stroke="#e9001b" stroke-width="5"/>
<text x="790" y="1887" font-size="36" textLength="582" lengthAdjust="spacingAndGlyphs">reale 5 year-5 year forward Rendite</text>

<!-- Source -->
<text x="2679" y="1936" font-size="26" textLength="224" lengthAdjust="spacingAndGlyphs">Quelle: Macrobond</text>
</svg>
</body>
</html>
